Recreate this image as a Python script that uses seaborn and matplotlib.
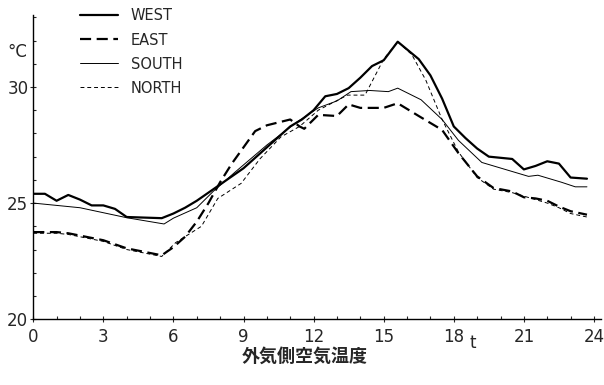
import matplotlib
matplotlib.use("Agg")
import matplotlib.pyplot as plt
import pandas as pd
import seaborn as sns
from matplotlib.ticker import MultipleLocator

sns.set_theme(style="ticks")
plt.rcParams["font.family"] = ["DejaVu Sans", "Noto Sans CJK JP"]

# hour of day / temperature (deg C)
west_t = [0, 0.5, 1.0, 1.5, 2.0, 2.5, 3.0, 3.5, 4.0, 5.5, 6.0, 6.5, 7.0, 7.5, 8.0, 9.0,
          10.0, 11.0, 11.5, 12.0, 12.5, 13.0, 13.5, 14.0, 14.5, 15.0, 15.6, 16.5, 17.0,
          17.5, 18.0, 18.5, 19.0, 19.5, 20.5, 21.0, 21.5, 22.0, 22.5, 23.0, 23.7]
west_v = [25.4, 25.4, 25.1, 25.35, 25.15, 24.9, 24.9, 24.75, 24.4, 24.35, 24.55, 24.8,
          25.1, 25.45, 25.8, 26.5, 27.4, 28.3, 28.6, 29.0, 29.6, 29.7, 29.95, 30.4, 30.9,
          31.15, 31.95, 31.2, 30.5, 29.5, 28.3, 27.8, 27.35, 27.0, 26.9, 26.45, 26.6,
          26.8, 26.7, 26.1, 26.05]

east_t = [0, 1.0, 1.5, 2.0, 3.0, 4.0, 4.5, 5.5, 6.0, 6.5, 7.0, 7.5, 8.0, 8.5, 9.0, 9.5,
          10.0, 11.0, 11.4, 11.6, 12.2, 13.0, 13.5, 14.0, 15.0, 15.6, 16.5, 17.5, 18.2,
          19.0, 19.7, 20.5, 21.0, 21.5, 22.0, 22.5, 23.0, 23.7]
east_v = [23.75, 23.75, 23.7, 23.6, 23.4, 23.05, 22.95, 22.75, 23.1, 23.55, 24.2, 25.0,
          25.9, 26.7, 27.4, 28.1, 28.35, 28.6, 28.3, 28.2, 28.8, 28.75, 29.25, 29.1, 29.1,
          29.3, 28.75, 28.15, 27.15, 26.15, 25.65, 25.5, 25.25, 25.2, 25.1, 24.85, 24.65,
          24.5]

south_t = [0, 2, 4, 5.6, 6.0, 7.0, 7.7, 8.6, 10, 11.3, 12.2, 13.0, 13.6, 14.4, 15.2,
           15.6, 16.6, 17.5, 18.2, 19.2, 20.2, 21.2, 21.6, 22.6, 23.2, 23.7]
south_v = [25.0, 24.8, 24.37, 24.1, 24.35, 24.8, 25.5, 26.3, 27.5, 28.5, 29.1, 29.4,
           29.8, 29.85, 29.8, 29.95, 29.45, 28.6, 27.7, 26.75, 26.45, 26.15, 26.2, 25.9,
           25.7, 25.7]

north_t = [0, 1.0, 1.5, 2.0, 3.0, 4.0, 4.5, 5.5, 6.1, 7.2, 7.9, 8.9, 9.7, 10.6, 11.4,
           12.2, 13.45, 14.2, 15.0, 15.6, 16.2, 16.8, 17.5, 18.2, 19.0, 19.7, 20.5, 21.0,
           21.5, 22.0, 22.5, 23.0, 23.7]
north_v = [23.7, 23.7, 23.65, 23.55, 23.35, 23.0, 22.9, 22.7, 23.3, 24.0, 25.2, 25.85,
           26.9, 27.85, 28.3, 29.0, 29.65, 29.65, 31.2, 31.95, 31.4, 30.3, 28.6, 27.2,
           26.1, 25.6, 25.45, 25.3, 25.15, 25.0, 24.8, 24.55, 24.4]

x_ticks = [0, 3, 6, 9, 12, 15, 18, 21, 24]
y_ticks = [20, 25, 30]

series = [
    ("WEST", west_t, west_v, dict(lw=1.6, ls="-")),
    ("EAST", east_t, east_v, dict(lw=1.6, ls=(0, (5, 2.5)))),
    ("SOUTH", south_t, south_v, dict(lw=0.7, ls="-")),
    ("NORTH", north_t, north_v, dict(lw=0.7, ls=(0, (4, 3)))),
]

fig = plt.figure(figsize=(6.04, 3.85), dpi=100)
ax = fig.add_axes([0.055, 0.171, 0.94, 0.79])

for name, t, v, style in series:
    df = pd.DataFrame({"t": t, "temp": v})
    sns.lineplot(data=df, x="t", y="temp", ax=ax, color="black", label=name,
                 sort=False, **style)

ax.set_xlim(0, 24.3)
ax.set_ylim(20, 33.1)
ax.set_xticks(x_ticks)
ax.set_yticks(y_ticks)
ax.xaxis.set_minor_locator(MultipleLocator(1))
ax.yaxis.set_minor_locator(MultipleLocator(1))
ax.tick_params(which="major", direction="inout", length=5, width=0.8, labelsize=12, pad=1)
ax.tick_params(axis="x", which="major", pad=4)
ax.tick_params(which="minor", direction="in", length=2.5, width=0.8)
ax.set_xlabel("")
ax.set_ylabel("")
for side in ["top", "right"]:
    ax.spines[side].set_visible(False)
for side in ["left", "bottom"]:
    ax.spines[side].set_linewidth(1.0)
    ax.spines[side].set_color("black")

leg = ax.legend(loc="upper left", bbox_to_anchor=(0.132, 0.978), bbox_transform=fig.transFigure,
                frameon=False, fontsize=10.5, handlelength=2.6, handletextpad=0.9,
                labelspacing=0.62, borderaxespad=0, borderpad=0)

fig.text(0.012, 0.865, "°C", fontsize=12, ha="left", va="center")
fig.text(0.783, 0.11, "t", fontsize=12, ha="center", va="center")
fig.text(0.505, 0.075, "外気側空気温度", fontsize=13, fontweight="bold", ha="center",
         va="center", family=["Noto Sans CJK JP", "DejaVu Sans"])

fig.savefig("out.png", dpi=100)
